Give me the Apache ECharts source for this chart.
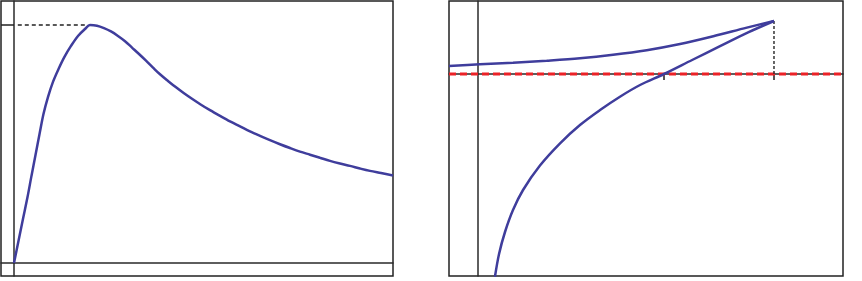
<!DOCTYPE html>
<html>
<head>
<meta charset="utf-8">
<script src="https://cdn.jsdelivr.net/npm/echarts@6/dist/echarts.min.js"></script>
<style>html,body{margin:0;padding:0;background:#fff;}#c{width:862px;height:281px;}</style>
</head>
<body>
<div id="c"></div>
<script>
// Left panel: rise-and-decay curve (x, y)
var leftX = [0, 0.059, 0.118, 0.178, 0.230, 0.283, 0.336, 0.388, 0.447, 0.513, 0.586, 0.664, 0.750, 0.842, 0.934, 1.0,
             1.092, 1.184, 1.276, 1.368, 1.461, 1.553, 1.645, 1.737, 1.829, 1.921, 2.026, 2.132, 2.237, 2.342, 2.461, 2.579,
             2.711, 2.842, 2.974, 3.105, 3.237, 3.368, 3.5, 3.632, 3.763, 3.895, 4.026, 4.158, 4.289, 4.421, 4.553, 4.684, 4.829, 4.987];
var leftY = [0, 0.092, 0.185, 0.277, 0.366, 0.454, 0.542, 0.626, 0.697, 0.761, 0.815, 0.866, 0.912, 0.954, 0.983, 1.0,
             0.997, 0.987, 0.973, 0.954, 0.932, 0.905, 0.878, 0.850, 0.821, 0.793, 0.765, 0.738, 0.713, 0.690, 0.665, 0.642,
             0.618, 0.595, 0.574, 0.553, 0.534, 0.516, 0.499, 0.483, 0.468, 0.455, 0.442, 0.429, 0.418, 0.408, 0.397, 0.387, 0.378, 0.368];
var leftPeak = [1.0, 1.0];

// Right panel: lower branch
var lowerX = [0.091, 0.113, 0.145, 0.188, 0.242, 0.333, 0.441, 0.548, 0.656, 0.763, 0.871, 1.0, 1.151, 1.301, 1.452, 1.591];
var lowerY = [-2.027, -1.80, -1.58, -1.36, -1.16, -0.915, -0.693, -0.51, -0.36, -0.227, -0.11, 0, 0.14, 0.278, 0.416, 0.53];
// Right panel: upper branch
var upperX = [-0.156, 0.011, 0.188, 0.369, 0.548, 0.726, 0.907, 1.086, 1.265, 1.445, 1.591];
var upperY = [0.08, 0.097, 0.113, 0.133, 0.157, 0.192, 0.238, 0.30, 0.378, 0.464, 0.53];
var rightTicks = [1.0, 1.591];
var rightPeak = [1.591, 0.53];
var refLevel = 0;

function zip(a, b) { return a.map(function (v, i) { return [v, b[i]]; }); }

var blue = '#3f3d9c';
var axisLine = { color: '#2a2a2a', width: 1.5 };
var chart = echarts.init(document.getElementById('c'), null, { renderer: 'canvas' });
chart.setOption({
  animation: false,
  grid: [
    { left: 1, top: 1, width: 392, height: 275, show: true, borderColor: '#222', borderWidth: 1.5, backgroundColor: 'transparent' },
    { left: 449, top: 1, width: 394, height: 275, show: true, borderColor: '#222', borderWidth: 1.5, backgroundColor: 'transparent' }
  ],
  xAxis: [
    { gridIndex: 0, type: 'value', min: -0.171, max: 4.987, splitLine: { show: false }, axisLabel: { show: false }, axisTick: { show: false }, axisLine: { show: true, onZero: true, lineStyle: axisLine } },
    { gridIndex: 1, type: 'value', min: -0.156, max: 1.962, splitLine: { show: false }, axisLabel: { show: false },
      axisTick: { show: true, length: 6, customValues: rightTicks, lineStyle: { color: '#222', width: 1.5 } },
      axisLine: { show: true, onZero: true, lineStyle: axisLine } }
  ],
  yAxis: [
    { gridIndex: 0, type: 'value', min: -0.0546, max: 1.1008, splitLine: { show: false }, axisLabel: { show: false }, axisTick: { show: false }, axisLine: { show: true, onZero: true, lineStyle: axisLine } },
    { gridIndex: 1, type: 'value', min: -2.02, max: 0.73, splitLine: { show: false }, axisLabel: { show: false }, axisTick: { show: false }, axisLine: { show: true, onZero: true, lineStyle: axisLine } }
  ],
  series: [
    { type: 'line', xAxisIndex: 0, yAxisIndex: 0, data: [[-0.171, leftPeak[1]], [0, leftPeak[1]]], symbol: 'none', lineStyle: { color: '#222', width: 1.5 }, silent: true },
    { type: 'line', xAxisIndex: 0, yAxisIndex: 0, data: [[0.05, leftPeak[1]], [leftPeak[0] - 0.03, leftPeak[1]]], symbol: 'none', lineStyle: { color: '#222', width: 1.3, type: [4, 3] }, silent: true },
    { type: 'line', xAxisIndex: 0, yAxisIndex: 0, data: zip(leftX, leftY), smooth: 0.33, symbol: 'none', lineStyle: { color: blue, width: 2.5 }, clip: true },
    { type: 'line', xAxisIndex: 1, yAxisIndex: 1, data: [[-0.156, refLevel], [1.962, refLevel]], symbol: 'none', lineStyle: { color: '#ec2227', width: 3, type: [7, 4] }, z: 3, silent: true },
    { type: 'line', xAxisIndex: 1, yAxisIndex: 1, data: [[rightPeak[0], refLevel], [rightPeak[0], rightPeak[1]]], symbol: 'none', lineStyle: { color: '#333', width: 1.5, type: [3, 2] }, silent: true },
    { type: 'line', xAxisIndex: 1, yAxisIndex: 1, data: zip(upperX, upperY), smooth: 0.33, symbol: 'none', lineStyle: { color: blue, width: 2.5 }, z: 4 },
    { type: 'line', xAxisIndex: 1, yAxisIndex: 1, data: zip(lowerX, lowerY), smooth: 0.33, symbol: 'none', lineStyle: { color: blue, width: 2.5 }, z: 4, clip: true }
  ]
});
</script>
</body>
</html>
